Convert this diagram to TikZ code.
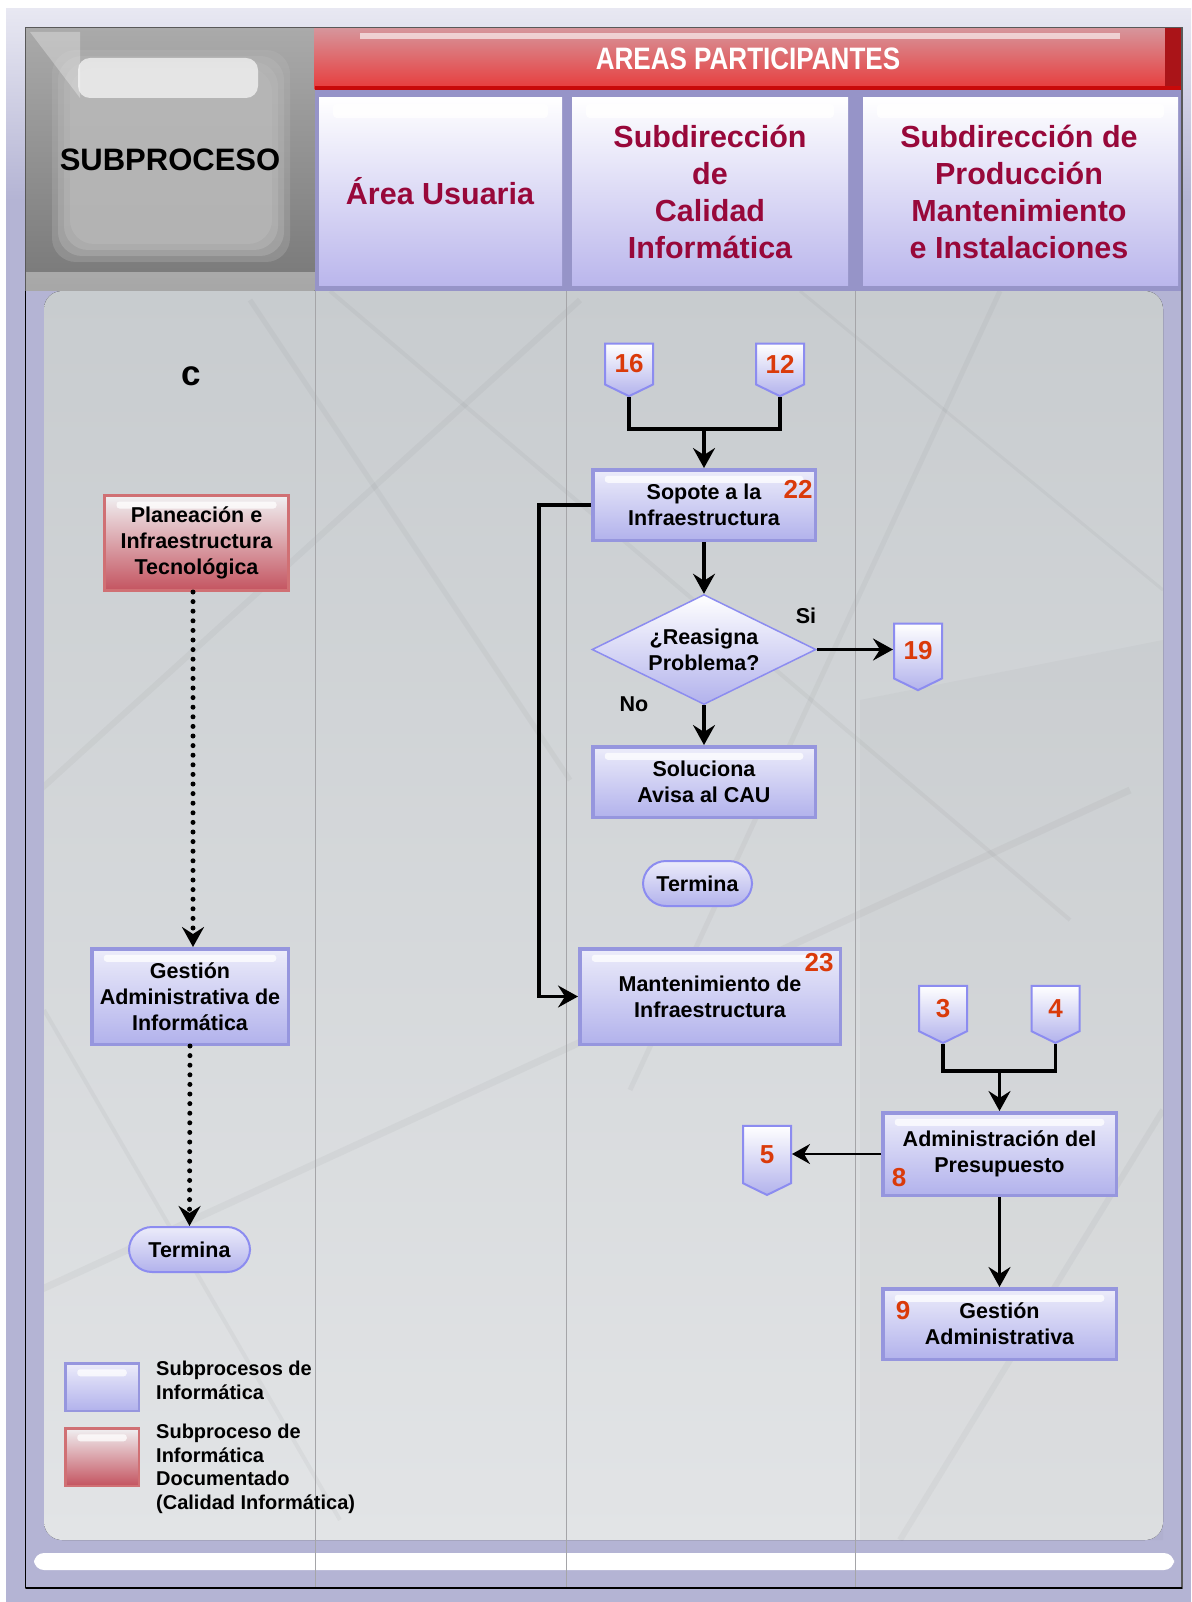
\documentclass[tikz,border=0pt]{standalone}
\usepackage{fontspec}
\setmainfont{Liberation Sans}
\newfontfamily\narrowsans[FakeStretch=0.84]{Liberation Sans}
\usetikzlibrary{arrows.meta,shapes.geometric,shapes.symbols,calc}

\definecolor{framelav}{RGB}{180,180,212}
\definecolor{framelight}{RGB}{232,232,242}
\definecolor{laneband}{RGB}{150,148,200}
\definecolor{titlered}{RGB}{152,8,58}
\definecolor{numred}{RGB}{218,58,10}
\definecolor{boxedge}{RGB}{150,150,222}
\definecolor{boxtop}{RGB}{236,236,250}
\definecolor{boxmid}{RGB}{226,226,246}
\definecolor{boxbot}{RGB}{178,178,236}
\definecolor{offedge}{RGB}{140,140,240}
\definecolor{rededge}{RGB}{208,112,116}
\definecolor{redtop}{RGB}{240,240,242}
\definecolor{redmid}{RGB}{226,220,222}
\definecolor{redbot}{RGB}{196,84,96}
\definecolor{lanegray}{RGB}{165,165,168}
\definecolor{paneltop}{RGB}{200,204,207}
\definecolor{panelbot}{RGB}{226,228,230}
\definecolor{bandtop}{RGB}{214,150,156}
\definecolor{bandmid}{RGB}{220,150,152}
\definecolor{bandbot}{RGB}{232,58,58}
\definecolor{banddark}{RGB}{170,20,24}
\definecolor{bandline}{RGB}{200,10,10}
\definecolor{lanemid}{RGB}{236,236,244}
\definecolor{lanebot}{RGB}{186,182,236}
\definecolor{steeltop}{RGB}{170,170,170}
\definecolor{steelbot}{RGB}{120,120,120}
\definecolor{plate}{RGB}{184,184,184}

\tikzset{
  boxfont/.style={font=\fontsize{21.5}{26}\selectfont\bfseries},
  shineband/.style={path picture={
      \fill[white,opacity=0.75,rounded corners=3pt]
        ([xshift=12pt,yshift=-6pt]path picture bounding box.north west)
        rectangle ([xshift=-12pt,yshift=-13pt]path picture bounding box.north east);}},
  procbox/.style={draw=boxedge, line width=3.5pt, top color=boxtop,
      middle color=boxmid, bottom color=boxbot, align=center,
      inner sep=0pt, boxfont, shineband},
  docbox/.style={draw=rededge, line width=3pt, top color=redtop,
      middle color=redmid, bottom color=redbot, align=center,
      inner sep=0pt, boxfont, shineband},
  termbox/.style={draw=offedge, line width=2pt, rounded corners=23pt,
      top color=boxtop, middle color=boxmid, bottom color=boxbot,
      inner sep=0pt, boxfont},
  offpage/.style={signal, signal to=south, signal pointer angle=128,
      draw=offedge, line width=2pt, top color=white, bottom color=boxbot,
      inner sep=0pt, minimum width=48pt, text=numred,
      font=\fontsize{26}{26}\selectfont\bfseries},
  decision/.style={diamond, aspect=2, draw=offedge, line width=1.5pt, top color=white,
      middle color=boxmid, bottom color=boxbot, align=center, inner sep=0pt,
      boxfont},
  numlabel/.style={text=numred, inner sep=0pt,
      font=\fontsize{26}{26}\selectfont\bfseries},
  plainlabel/.style={inner sep=0pt, boxfont},
  lanetitle/.style={text=titlered, align=center,
      font=\fontsize{30.5}{37}\selectfont\bfseries},
  flow/.style={line width=3.5pt, black},
  flowtip/.style={-{Stealth[length=20pt,width=22pt,inset=7pt]}},
  dotflow/.style={line width=5pt, line cap=round, dash pattern=on 0pt off 9.6pt,
      -{Stealth[length=20pt,width=22pt,inset=7pt]}},
  lanerule/.style={line width=1pt, lanegray},
  cable/.style={gray!60!black, opacity=0.05},
}

\begin{document}
\begin{tikzpicture}[x=1pt,y=-1pt]
\useasboundingbox (0,0) rectangle (1191,1602);

% page and outer frame
\fill[white] (0,0) rectangle (1191,1602);
\fill[top color=framelight, bottom color=framelav] (6,9) rectangle (1191,200);
\fill[framelav] (6,200) rectangle (1191,1602);

% body panel
\fill[framelav] (25.5,291) rectangle (1182,1588);
\fill[top color=paneltop, bottom color=panelbot, rounded corners=18pt]
  (44,291) -- (1163,291) -- (1163,1540) -- (44,1540) -- cycle;
\begin{scope}
  \clip (44,291) rectangle (1163,1540);
  \draw[cable, line width=5pt] (250,300) -- (570,780);
  \draw[cable, line width=4pt] (330,291) -- (1070,920);
  \draw[cable, line width=6pt] (40,790) -- (580,300);
  \draw[cable, line width=3pt] (800,291) -- (1163,590);
  \draw[cable, line width=7pt] (40,1290) -- (1130,790);
  \draw[cable, line width=5pt] (630,1090) -- (1000,291);
  \draw[cable, line width=4pt] (44,1010) -- (340,1520);
  \draw[cable, line width=6pt] (900,1540) -- (1163,1110);
  \fill[gray!50!black, opacity=0.03] (860,700) -- (1163,640) -- (1163,1540) -- (860,1540) -- cycle;
\end{scope}
\fill[white, rounded corners=10pt] (34,1553) -- (1174,1553) -- (1174,1570) -- (34,1570) -- cycle;

% header: subprocess cell (brushed steel plate)
\fill[top color=steeltop, bottom color=steelbot] (25.5,27.6) rectangle (314.6,291);
\foreach \i/\op in {0/0.3,6/0.4,12/0.5,18/0.6}{
  \fill[plate, opacity=\op, rounded corners=24pt]
    (52+\i,50+\i) rectangle (290-\i,262-\i);
}
\fill[white, opacity=0.65, rounded corners=12pt] (78,58) rectangle (258,98);
\fill[white, opacity=0.3] (30,32) -- (80,32) -- (80,98) -- cycle;
\fill[white, opacity=0.35] (25.5,272) rectangle (314.6,291);
\node[inner sep=0pt, font=\fontsize{31}{31}\selectfont\bfseries] (subp) at (170,160) {SUBPROCESO};

% header: participating areas band
\fill[top color=bandtop, middle color=bandmid, bottom color=bandbot] (314.6,27.6) rectangle (1182,90);
\fill[white, opacity=0.6] (360,33) rectangle (1120,39);
\fill[banddark] (1165,27.6) rectangle (1182,90);
\fill[bandline] (314.6,86) rectangle (1182,90);
\node[inner sep=0pt, text=white, font=\narrowsans\fontsize{31}{31}\selectfont\bfseries]
  (areas) at (748,59) {AREAS PARTICIPANTES};

% header: lane titles
\fill[laneband] (314.6,90) rectangle (1182,291);
\foreach \xa/\xb in {319/562, 572/848, 863/1178}{
  \fill[top color=white, middle color=lanemid, bottom color=lanebot] (\xa,98) rectangle (\xb,286);
  \fill[white, opacity=0.85, rounded corners=4pt] (\xa+14,104) rectangle (\xb-14,118);
}
\node[lanetitle] (laneA) at (440,191) {Área Usuaria};
\node[lanetitle] (laneB) at (710,192) {Subdirección\\de\\Calidad\\Informática};
\node[lanetitle] (laneC) at (1019,192) {Subdirección de\\Producción\\Mantenimiento\\e Instalaciones};

% lane rules and frame
\draw[lanerule] (315.6,291) -- (315.6,1588);
\draw[lanerule] (566,291) -- (566,1588);
\draw[lanerule] (855,291) -- (855,1588);
\draw[line width=1.2pt, gray!70!black] (25.5,27.6) rectangle (1182,1588);
\draw[line width=2.5pt] (25.5,1588) -- (1182,1588);
\draw[line width=1.2pt] (25.5,291) -- (25.5,1588);

% left lane
\node[font=\fontsize{35}{35}\selectfont\bfseries, inner sep=0pt] (tagc) at (191,376) {c};
\node[docbox, minimum width=184pt, minimum height=95pt] (plan) at (196.5,543)
  {Planeación e\\Infraestructura\\Tecnológica};
\node[procbox, minimum width=196.5pt, minimum height=95.5pt] (gai) at (190,996.5)
  {Gestión\\Administrativa de\\Informática};
\node[termbox, minimum width=121pt, minimum height=45pt] (endL) at (189.5,1249.5) {Termina};
\draw[dotflow] (plan.south -| 193,0) -- (193,0 |- gai.north);
\draw[dotflow] (gai.south) -- (endL.north);

% quality lane
\node[offpage, minimum height=48pt] (p16) at (629,364) {16};
\node[offpage, minimum height=48pt] (p12) at (780,364) {12};
\coordinate (j1) at (704,429);
\node[procbox, minimum width=222.5pt, minimum height=70.5pt] (sop) at (704,505)
  {Sopote a la\\Infraestructura};
\node[numlabel] (n22) at (798,489) {22};
\node[decision, minimum width=224pt, minimum height=110pt] (dia) at (704,649.5)
  {¿Reasigna\\Problema?};
\node[plainlabel] (lsi) at (806,616) {Si};
\node[plainlabel] (lno) at (634,704) {No};
\node[offpage, minimum height=62pt] (p19) at (918,651) {19};
\node[procbox, minimum width=222.5pt, minimum height=70.5pt] (sol) at (704,782)
  {Soluciona\\Avisa al CAU};
\node[termbox, minimum width=109pt, minimum height=45pt] (endM) at (697.5,883.5) {Termina};
\node[procbox, minimum width=260.5pt, minimum height=95.5pt] (mant) at (710,996.5)
  {Mantenimiento de\\Infraestructura};
\node[numlabel] (n23) at (819,963) {23};
\coordinate (bend) at (539,505);

\draw[flow] (p16.south) |- (j1) -| (p12.south);
\draw[flow, flowtip] (j1) -- (sop.north);
\draw[flow, flowtip] (sop.south) -- (dia.north);
\draw[flow, flowtip] (dia.east) -- (dia.east -| p19.west);
\draw[flow, flowtip] (dia.south) -- (sol.north);
\draw[flow, flowtip] (sop.west) -- (bend) |- (mant.west);

% production lane
\node[offpage, minimum height=49pt] (p3) at (943,1008.5) {3};
\node[offpage, minimum height=49pt] (p4) at (1055.5,1008.5) {4};
\coordinate (j2) at (999.5,1071);
\node[procbox, minimum width=233.5pt, minimum height=82.5pt] (adm) at (999.5,1154)
  {Administración del\\Presupuesto};
\node[numlabel] (n8) at (899,1178) {8};
\node[offpage, minimum height=61pt] (p5) at (767,1154.5) {5};
\node[procbox, minimum width=233.5pt, minimum height=70.5pt] (ges) at (999.5,1324)
  {Gestión\\Administrativa};
\node[numlabel] (n9) at (903,1311) {9};

\draw[flow] (p3.south) |- (j2) -| (p4.south);
\draw[flow, flowtip] (j2) -- (adm.north);
\draw[line width=2.2pt, -{Stealth[length=18pt,width=20pt,inset=6pt]}] (adm.west) -- (adm.west -| p5.east);
\draw[flow, flowtip] (adm.south) -- (ges.north);

% legend
\node[procbox, line width=2.5pt, minimum width=73.5pt, minimum height=47.5pt] (legA) at (102,1387) {};
\node[docbox, line width=2.5pt, minimum width=73.5pt, minimum height=57.5pt] (legB) at (102,1457) {};
\node[anchor=north west, align=left, inner sep=0pt, font=\fontsize{20}{23.5}\selectfont\bfseries]
  (legAtxt) at (156,1361) {Subprocesos de\\Informática};
\node[anchor=north west, align=left, inner sep=0pt, font=\fontsize{20}{23.5}\selectfont\bfseries]
  (legBtxt) at (156,1424) {Subproceso de\\Informática\\Documentado\\(Calidad Informática)};
\end{tikzpicture}
\end{document}
